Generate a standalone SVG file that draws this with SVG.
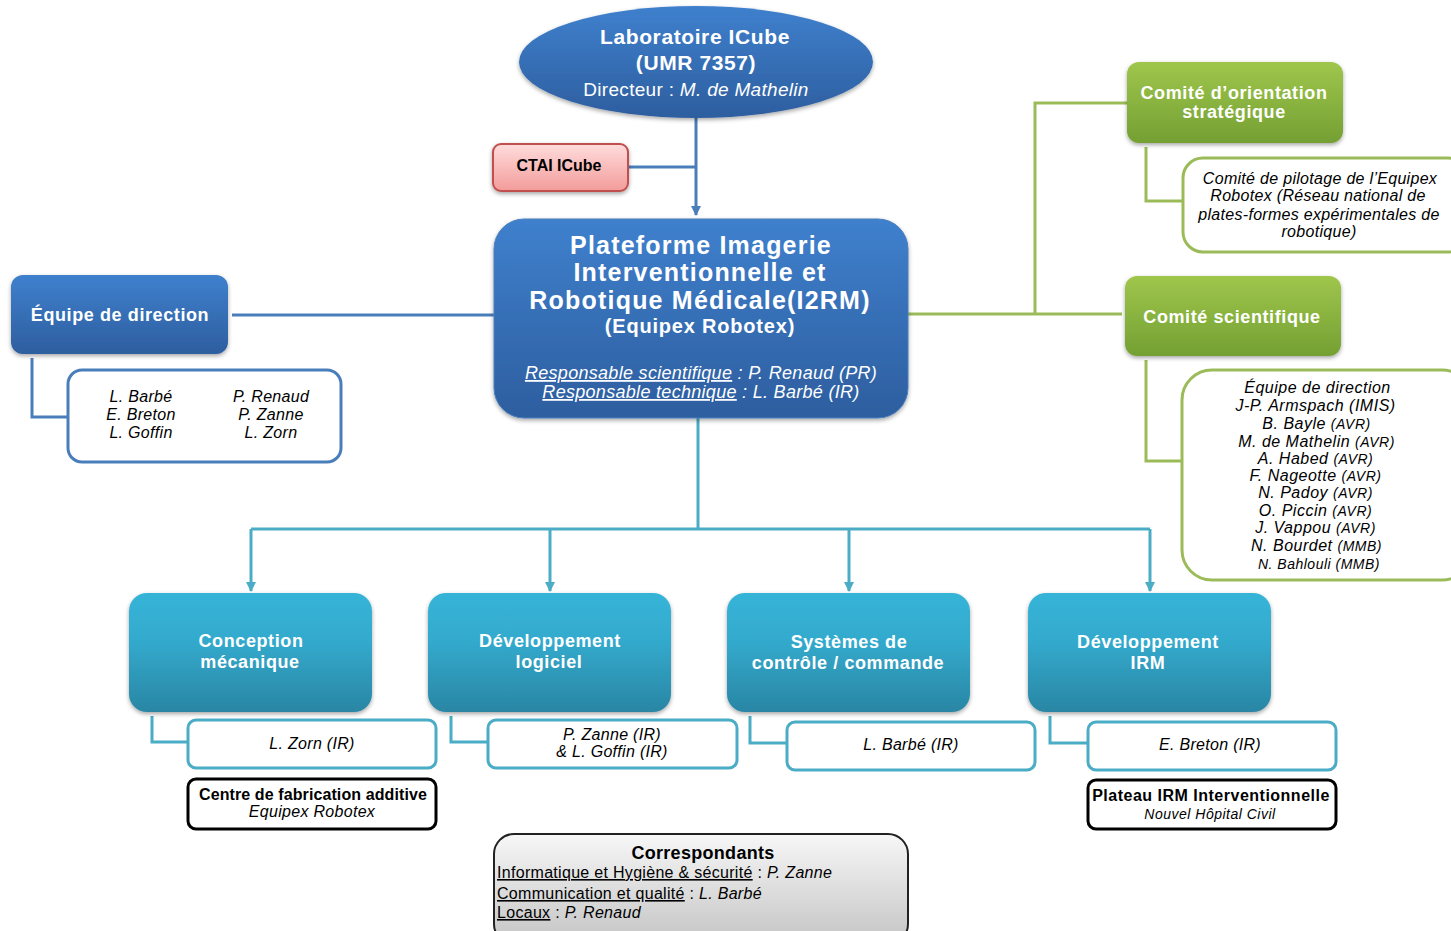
<svg xmlns="http://www.w3.org/2000/svg" width="1451" height="931" viewBox="0 0 1451 931">
<defs>
<linearGradient id="gBlue" x1="0" y1="0" x2="0" y2="1"><stop offset="0" stop-color="#3f80cd"/><stop offset="1" stop-color="#2d5e9f"/></linearGradient>
<linearGradient id="gGreen" x1="0" y1="0" x2="0" y2="1"><stop offset="0" stop-color="#9fc64c"/><stop offset="1" stop-color="#74a033"/></linearGradient>
<linearGradient id="gTeal" x1="0" y1="0" x2="0" y2="1"><stop offset="0" stop-color="#36b4d8"/><stop offset="0.4" stop-color="#33aacd"/><stop offset="1" stop-color="#2a86a4"/></linearGradient>
<linearGradient id="gPink" x1="0" y1="0" x2="0" y2="1"><stop offset="0" stop-color="#ffdcdc"/><stop offset="1" stop-color="#f29c9a"/></linearGradient>
<linearGradient id="gGrey" x1="0" y1="0" x2="0" y2="1"><stop offset="0" stop-color="#f7f7f7"/><stop offset="1" stop-color="#c4c4c4"/></linearGradient>
<filter id="sh" x="-10%" y="-10%" width="120%" height="130%"><feDropShadow dx="0" dy="2" stdDeviation="2" flood-color="#000" flood-opacity="0.35"/></filter>
<marker id="aBlue" markerWidth="10" markerHeight="10" refX="9" refY="5" orient="auto" markerUnits="userSpaceOnUse" viewBox="0 0 10 10"><path d="M0,0 L10,5 L0,10 Z" fill="#4a7ebb"/></marker>
<marker id="aTeal" markerWidth="10" markerHeight="10" refX="9" refY="5" orient="auto" markerUnits="userSpaceOnUse" viewBox="0 0 10 10"><path d="M0,0 L10,5 L0,10 Z" fill="#4bacc6"/></marker>
</defs>
<style>
text{font-family:"Liberation Sans",Arial,sans-serif;letter-spacing:0.3px;}
.w{fill:#fff;font-weight:bold;text-anchor:middle;letter-spacing:0.6px;}
.k{fill:#000;text-anchor:middle;}
.i{font-style:italic;}
.b{font-weight:bold;}
.cb{fill:none;stroke:#4a7ebb;stroke-width:3;}
.cg{fill:none;stroke:#9bbb59;stroke-width:3;}
.ct{fill:none;stroke:#4bacc6;stroke-width:3;}
.bx{fill:#fff;stroke-width:3;}
</style>
<rect width="1451" height="931" fill="#fff"/>

<g id="connectors">
<path class="cb" d="M696,118 V215" marker-end="url(#aBlue)"/>
<path class="cb" d="M628,167 H696"/>
<path class="cb" d="M232,315 H494"/>
<path class="cb" d="M32,358 V417 H68"/>
<path class="cg" d="M908,314 H1122"/>
<path class="cg" d="M1035,314 V103 H1127"/>
<path class="cg" d="M1146,147 V201 H1183"/>
<path class="cg" d="M1146,360 V461 H1182"/>
<path class="ct" d="M698,418 V529"/>
<path class="ct" d="M251,529 H1150"/>
<path class="ct" d="M251,529 V591" marker-end="url(#aTeal)"/>
<path class="ct" d="M550,529 V591" marker-end="url(#aTeal)"/>
<path class="ct" d="M849,529 V591" marker-end="url(#aTeal)"/>
<path class="ct" d="M1150,529 V591" marker-end="url(#aTeal)"/>
<path class="ct" d="M152,716 V742 H188"/>
<path class="ct" d="M451,716 V742 H488"/>
<path class="ct" d="M750,716 V743 H787"/>
<path class="ct" d="M1050,716 V743 H1088"/>
</g>

<g id="labo">
<ellipse cx="696" cy="62" rx="177" ry="56" fill="url(#gBlue)" filter="url(#sh)"/>
<text x="695" y="44" class="w" font-size="21">Laboratoire ICube</text>
<text x="696" y="70" class="w" font-size="21">(UMR 7357)</text>
<text x="696" y="96" font-size="19" fill="#fff" text-anchor="middle">Directeur : <tspan font-style="italic">M. de Mathelin</tspan></text>
</g>

<g id="ctai">
<rect x="493" y="144" width="135" height="47" rx="8" fill="url(#gPink)" stroke="#c0504d" stroke-width="2" filter="url(#sh)"/>
<text x="559" y="171" class="k b" font-size="16" style="letter-spacing:0">CTAI ICube</text>
</g>

<g id="plateforme">
<rect x="494" y="219" width="414" height="199" rx="30" fill="url(#gBlue)" stroke="#4a7ebb" stroke-width="1" filter="url(#sh)"/>
<text x="701" y="254" class="w" font-size="25" style="letter-spacing:1.2px">Plateforme Imagerie</text>
<text x="700" y="281" class="w" font-size="25" style="letter-spacing:1.2px">Interventionnelle  et</text>
<text x="700" y="309" class="w" font-size="25" style="letter-spacing:1.2px">Robotique Médicale(I2RM)</text>
<text x="700" y="333" class="w" font-size="20" style="letter-spacing:0.8px">(Equipex Robotex)</text>
<text x="701" y="379" font-size="18" fill="#fff" text-anchor="middle" font-style="italic"><tspan text-decoration="underline">Responsable scientifique</tspan> : P. Renaud  (PR)</text>
<text x="701" y="398" font-size="18" fill="#fff" text-anchor="middle" font-style="italic"><tspan text-decoration="underline">Responsable technique</tspan> : L. Barbé (IR)</text>
</g>

<g id="equipe">
<rect x="11" y="275" width="217" height="79" rx="12" fill="url(#gBlue)" filter="url(#sh)"/>
<text x="120" y="321" class="w" font-size="18">Équipe de direction</text>
</g>

<g id="equipe-noms">
<rect x="68" y="370" width="273" height="92" rx="14" class="bx" stroke="#4a7ebb"/>
<text class="k i" font-size="16"><tspan x="141" y="402">L. Barbé</tspan><tspan x="141" y="420">E. Breton</tspan><tspan x="141" y="438">L. Goffin</tspan></text>
<text class="k i" font-size="16"><tspan x="271" y="402">P. Renaud</tspan><tspan x="271" y="420">P. Zanne</tspan><tspan x="271" y="438">L. Zorn</tspan></text>
</g>

<g id="orientation">
<rect x="1127" y="62" width="216" height="81" rx="12" fill="url(#gGreen)" filter="url(#sh)"/>
<text x="1234" y="99" class="w" font-size="18">Comité d’orientation</text>
<text x="1234" y="118" class="w" font-size="18">stratégique</text>
</g>

<g id="pilotage">
<rect x="1183" y="158" width="285" height="94" rx="20" class="bx" stroke="#9bbb59"/>
<text class="k i" font-size="16"><tspan x="1320" y="184">Comité de pilotage  de l’Equipex</tspan><tspan x="1318" y="201">Robotex (Réseau national de</tspan><tspan x="1319" y="220">plates-formes expérimentales de</tspan><tspan x="1319" y="237">robotique)</tspan></text>
</g>

<g id="scientifique">
<rect x="1125" y="276" width="216" height="80" rx="12" fill="url(#gGreen)" filter="url(#sh)"/>
<text x="1232" y="323" class="w" font-size="18">Comité scientifique</text>
</g>

<g id="membres">
<rect x="1182" y="370" width="290" height="210" rx="30" class="bx" stroke="#9bbb59"/>
<text class="k i" font-size="16" style="letter-spacing:0.5px">
<tspan x="1320" y="393">Équipe de direction</tspan>
<tspan x="1318" y="411">J-P. Armspach (IMIS)</tspan>
<tspan x="1319" y="429">B. Bayle <tspan font-size="14">(AVR)</tspan></tspan>
<tspan x="1319" y="447">M. de Mathelin <tspan font-size="14">(AVR)</tspan></tspan>
<tspan x="1318" y="464">A. Habed <tspan font-size="14">(AVR)</tspan></tspan>
<tspan x="1318" y="481">F. Nageotte <tspan font-size="14">(AVR)</tspan></tspan>
<tspan x="1318" y="498">N. Padoy <tspan font-size="14">(AVR)</tspan></tspan>
<tspan x="1318" y="516">O. Piccin <tspan font-size="14">(AVR)</tspan></tspan>
<tspan x="1318" y="533">J. Vappou <tspan font-size="14">(AVR)</tspan></tspan>
<tspan x="1319" y="551">N. Bourdet <tspan font-size="14">(MMB)</tspan></tspan>
<tspan x="1319" y="569" font-size="14">N. Bahlouli  (MMB)</tspan>
</text>
</g>

<g id="conception">
<rect x="129" y="593" width="243" height="119" rx="18" fill="url(#gTeal)" filter="url(#sh)"/>
<text x="251" y="647" class="w" font-size="18">Conception</text>
<text x="250" y="668" class="w" font-size="18">mécanique</text>
</g>
<g id="logiciel">
<rect x="428" y="593" width="243" height="119" rx="18" fill="url(#gTeal)" filter="url(#sh)"/>
<text x="550" y="647" class="w" font-size="18">Développement</text>
<text x="549" y="668" class="w" font-size="18">logiciel</text>
</g>
<g id="controle">
<rect x="727" y="593" width="243" height="119" rx="18" fill="url(#gTeal)" filter="url(#sh)"/>
<text x="849" y="648" class="w" font-size="18">Systèmes de</text>
<text x="848" y="669" class="w" font-size="18">contrôle / commande</text>
</g>
<g id="irm">
<rect x="1028" y="593" width="243" height="119" rx="18" fill="url(#gTeal)" filter="url(#sh)"/>
<text x="1148" y="648" class="w" font-size="18">Développement</text>
<text x="1148" y="669" class="w" font-size="18">IRM</text>
</g>

<g id="zorn">
<rect x="188" y="720" width="248" height="48" rx="8" class="bx" stroke="#4bacc6"/>
<text x="312" y="749" class="k i" font-size="16">L. Zorn (IR)</text>
</g>
<g id="zanne">
<rect x="488" y="720" width="249" height="48" rx="8" class="bx" stroke="#4bacc6"/>
<text x="612" y="740" class="k i" font-size="16">P. Zanne (IR)</text>
<text x="612" y="757" class="k i" font-size="16">&amp; L. Goffin (IR)</text>
</g>
<g id="barbe">
<rect x="787" y="722" width="248" height="48" rx="8" class="bx" stroke="#4bacc6"/>
<text x="911" y="750" class="k i" font-size="16">L. Barbé (IR)</text>
</g>
<g id="breton">
<rect x="1088" y="722" width="248" height="48" rx="8" class="bx" stroke="#4bacc6"/>
<text x="1210" y="750" class="k i" font-size="16">E. Breton (IR)</text>
</g>

<g id="fabrication">
<rect x="188" y="779" width="248" height="50" rx="8" class="bx" stroke="#000"/>
<text x="313" y="800" class="k b" font-size="16" style="letter-spacing:0.1px">Centre de fabrication additive</text>
<text x="312" y="817" class="k i" font-size="16">Equipex Robotex</text>
</g>
<g id="plateau">
<rect x="1088" y="780" width="248" height="49" rx="8" class="bx" stroke="#000"/>
<text x="1211" y="801" class="k b" font-size="16" style="letter-spacing:0.5px">Plateau IRM Interventionnelle</text>
<text x="1210" y="819" class="k i" font-size="14" style="letter-spacing:0.5px">Nouvel  Hôpital  Civil</text>
</g>

<g id="correspondants">
<rect x="494" y="834" width="414" height="110" rx="20" fill="url(#gGrey)" stroke="#222" stroke-width="2"/>
<text x="703" y="859" class="k b" font-size="18">Correspondants</text>
<text x="497" y="878" font-size="16" fill="#000"><tspan text-decoration="underline">Informatique et Hygiène &amp; sécurité</tspan> : <tspan font-style="italic">P. Zanne</tspan></text>
<text x="497" y="899" font-size="16" fill="#000"><tspan text-decoration="underline">Communication et qualité</tspan> : <tspan font-style="italic">L. Barbé</tspan></text>
<text x="497" y="918" font-size="16" fill="#000"><tspan text-decoration="underline">Locaux</tspan> : <tspan font-style="italic">P. Renaud</tspan></text>
</g>
</svg>
